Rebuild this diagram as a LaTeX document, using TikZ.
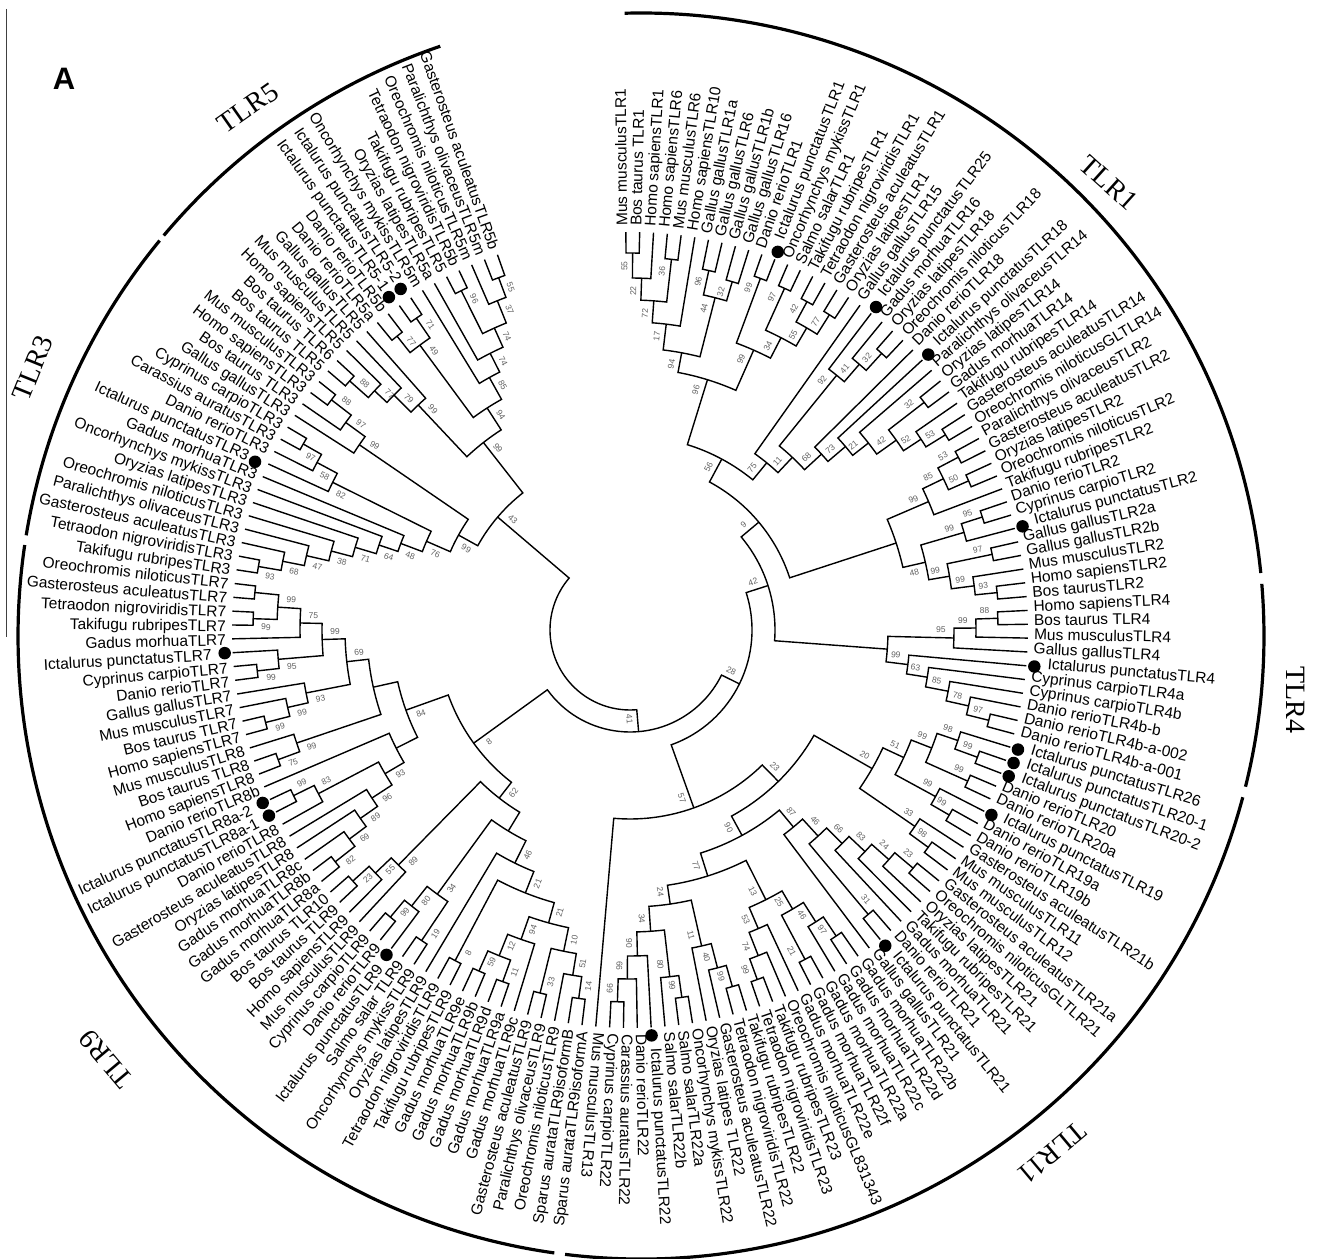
\documentclass[tikz,border=0pt]{standalone}
\usepackage{fontspec}
\setmainfont{Liberation Sans}
\newfontfamily\grpfont{Liberation Serif}
\newcount\tipn
\tipn=0
\def\thetaO{90.6}
\def\dtheta{1.995}
\def\tipR{398}
\def\getA#1{\csname ang@#1\endcsname}
\def\getR#1{\csname rad@#1\endcsname}
\tikzset{
  tiplabel/.style={inner sep=0pt,text height=11pt,text depth=3pt,font=\fontsize{15.5}{17}\selectfont},
  dotmark/.style={circle,fill=black,inner sep=0pt,minimum size=12.5pt},
  branch/.style={line width=1.4pt,black,line join=miter},
  support/.style={inner sep=0pt,text=black!62,font=\fontsize{8.5}{9}\selectfont},
  outerarc/.style={line width=3.2pt,black},
  grouplabel/.style={inner sep=0pt,font=\grpfont\fontsize{28}{30}\selectfont}
}
\newcommand{\tp}[3][0]{%
  \global\advance\tipn by 1
  \pgfmathsetmacro\angT{\thetaO-\dtheta*(\the\tipn-1)}%
  \expandafter\xdef\csname ang@#2\endcsname{\angT}%
  \expandafter\xdef\csname rad@#2\endcsname{\tipR}%
  \coordinate (#2) at (\angT:\tipR);
  \ifnum#1=1
    \def\labR{419}%
    \ifnum\tipn>140
      \pgfmathsetmacro\angD{\angT+0.5}%
      \node[dotmark] (#2d) at (\angD:411) {};
    \else
      \node[dotmark] (#2d) at (\angT:406) {};
    \fi
  \else
    \def\labR{404}%
  \fi
  \pgfmathsetmacro\angL{\angT+0.35}%
  \ifnum\tipn<95
    \node[tiplabel,rotate=\angT,anchor=west] (#2l) at (\angL:\labR) {#3};
  \else
    \pgfmathsetmacro\rotT{\angT+180}%
    \node[tiplabel,rotate=\rotT,anchor=east] (#2l) at (\angL:\labR) {#3};
  \fi
}
\newcommand{\nd}[5][0]{%
  \pgfmathsetmacro\angA{\getA{#3}}%
  \pgfmathsetmacro\angB{\getA{#4}}%
  \pgfmathsetmacro\angM{(\angA+\angB)/2}%
  \expandafter\xdef\csname ang@#2\endcsname{\angM}%
  \coordinate (#2) at (\angM:#5);
  \draw[branch] (#3) -- (\angA:#5) arc[start angle=\angA,end angle=\angB,radius=#5] -- (#4);
}
\newcommand{\bs}[3][0]{%
  \def\tmpl{#3}%
  \ifx\tmpl\empty\else
    \pgfmathsetmacro\angM{\getA{#2}}%
    \pgfmathsetmacro\thN{mod(\angM+720,360)}%
    \ifnum#1=0
      \pgfmathsetmacro\sd{((\thN>=90 && \thN<150) || (\thN>=268 && \thN<305)) ? -1 : 1}%
    \else
      \def\sd{#1}%
    \fi
    \pgfmathsetmacro\rS{\csname rad@#2\endcsname-13}%
    \pgfmathsetmacro\angS{\angM+\sd*8/\rS*57.3}%
    \ifdim\angM pt>-95pt
      \pgfmathsetmacro\rotS{\angM}%
    \else
      \pgfmathsetmacro\rotS{\angM+180}%
    \fi
    \node[support,rotate=\rotS] (#2s) at (\angS:\rS) {#3};
  \fi
}
\newcommand{\cl}[6][0]{%
  \expandafter\xdef\csname rad@#2\endcsname{#3}%
  \nd{#2}{#4}{#5}{#3}%
  \bs[#1]{#2}{#6}%
}
\begin{document}
\begin{tikzpicture}[x=1pt,y=1pt]
\useasboundingbox (0,0) rectangle (1318,1259);
\fill[white] (0,0) rectangle (1318,1259);
\coordinate (sideA) at (6,1250);
\coordinate (sideB) at (6,622);
\draw[line width=0.9pt,black!75] (sideA) -- (sideB);
\node[inner sep=0pt,font=\bfseries\fontsize{31}{33}\selectfont] (panelA) at (64,1180) {A};
\begin{scope}[shift={(641,623)}]
\draw[outerarc] (91.5:623) arc[start angle=91.5,end angle=5.8,radius=623];
\draw[outerarc] (4.8:623) arc[start angle=4.8,end angle=-14,radius=623];
\draw[outerarc] (-15:623) arc[start angle=-15,end angle=-97,radius=623];
\draw[outerarc] (-98:623) arc[start angle=-98,end angle=-188.4,radius=623];
\draw[outerarc] (-189.3:623) arc[start angle=-189.3,end angle=-219.4,radius=623];
\draw[outerarc] (-220:623) arc[start angle=-220,end angle=-251.2,radius=623];
\end{scope}
\node[grouplabel,rotate=-42] (gT1) at (1109,1076) {TLR1};
\node[grouplabel,rotate=-90] (gT4) at (1296,559) {TLR4};
\node[grouplabel,rotate=220] (gT11) at (1052,106) {TLR11};
\node[grouplabel,rotate=130] (gT9) at (106,200) {TLR9};
\node[grouplabel,rotate=68] (gT3) at (33,891) {TLR3};
\node[grouplabel,rotate=35] (gT5) at (248,1151) {TLR5};
\begin{scope}[shift={(630,629)}]
\tp{t1}{Mus musculusTLR1}
\tp{t2}{Bos taurus TLR1}
\tp{t3}{Homo sapiensTLR1}
\tp{t4}{Homo sapiensTLR6}
\tp{t5}{Mus musculusTLR6}
\tp{t6}{Homo sapiensTLR10}
\tp{t7}{Gallus gallusTLR1a}
\tp{t8}{Gallus gallusTLR6}
\tp{t9}{Gallus gallusTLR1b}
\tp{t10}{Gallus gallusTLR16}
\tp{t11}{Danio rerioTLR1}
\tp[1]{t12}{Ictalurus punctatusTLR1}
\tp{t13}{Oncorhynchys mykissTLR1}
\tp{t14}{Salmo salarTLR1}
\tp{t15}{Takifugu rubripesTLR1}
\tp{t16}{Tetraodon nigroviridisTLR1}
\tp{t17}{Gasterosteus aculeatusTLR1}
\tp{t18}{Oryzias latipesTLR1}
\tp{t19}{Gallus gallusTLR15}
\tp[1]{t20}{Ictalurus punctatusTLR25}
\tp{t21}{Gadus morhuaTLR16}
\tp{t22}{Oryzias latipesTLR18}
\tp{t23}{Oreochromis niloticusTLR18}
\tp{t24}{Danio rerioTLR18}
\tp[1]{t25}{Ictalurus punctatusTLR18}
\tp{t26}{Paralichthys olivaceusTLR14}
\tp{t27}{Oryzias latipesTLR14}
\tp{t28}{Gadus morhuaTLR14}
\tp{t29}{Takifugu rubripesTLR14}
\tp{t30}{Gasterosteus aculeatusTLR14}
\tp{t31}{Oreochromis niloticusGLTLR14}
\tp{t32}{Paralichthys olivaceusTLR2}
\tp{t33}{Gasterosteus aculeatusTLR2}
\tp{t34}{Oryzias latipesTLR2}
\tp{t35}{Oreochromis niloticusTLR2}
\tp{t36}{Takifugu rubripesTLR2}
\tp{t37}{Danio rerioTLR2}
\tp{t38}{Cyprinus carpioTLR2}
\tp[1]{t39}{Ictalurus punctatusTLR2}
\tp{t40}{Gallus gallusTLR2a}
\tp{t41}{Gallus gallusTLR2b}
\tp{t42}{Mus musculusTLR2}
\tp{t43}{Homo sapiensTLR2}
\tp{t44}{Bos taurusTLR2}
\tp{t45}{Homo sapiensTLR4}
\tp{t46}{Bos taurus TLR4}
\tp{t47}{Mus musculusTLR4}
\tp{t48}{Gallus gallusTLR4}
\tp[1]{t49}{Ictalurus punctatusTLR4}
\tp{t50}{Cyprinus carpioTLR4a}
\tp{t51}{Cyprinus carpioTLR4b}
\tp{t52}{Danio rerioTLR4b-b}
\tp{t53}{Danio rerioTLR4b-a-002}
\tp{t54}{Danio rerioTLR4b-a-001}
\tp[1]{t55}{Ictalurus punctatusTLR26}
\tp[1]{t56}{Ictalurus punctatusTLR20-1}
\tp[1]{t57}{Ictalurus punctatusTLR20-2}
\tp{t58}{Danio rerioTLR20}
\tp{t59}{Danio rerioTLR20a}
\tp[1]{t60}{Ictalurus punctatusTLR19}
\tp{t61}{Danio rerioTLR19a}
\tp{t62}{Danio rerioTLR19b}
\tp{t63}{Gasterosteus aculeatusTLR21b}
\tp{t64}{Mus musculusTLR11}
\tp{t65}{Mus musculusTLR12}
\tp{t66}{Gasterosteus aculeatusTLR21a}
\tp{t67}{Oreochromis niloticusGLTLR21}
\tp{t68}{Oryzias latipesTLR21}
\tp{t69}{Takifugu rubripesTLR21}
\tp{t70}{Gadus morhuaTLR21}
\tp{t71}{Danio rerioTLR21}
\tp[1]{t72}{Ictalurus punctatusTLR21}
\tp{t73}{Gallus gallusTLR21}
\tp{t74}{Gadus morhuaTLR22b}
\tp{t75}{Gadus morhuaTLR22d}
\tp{t76}{Gadus morhuaTLR22c}
\tp{t77}{Gadus morhuaTLR22a}
\tp{t78}{Gadus morhuaTLR22f}
\tp{t79}{Gadus morhuaTLR22e}
\tp{t80}{Oreochromis niloticusGL831343}
\tp{t81}{Takifugu rubripesTLR23}
\tp{t82}{Tetraodon nigroviridisTLR23}
\tp{t83}{Takifugu rubripesTLR22}
\tp{t84}{Tetraodon nigroviridisTLR22}
\tp{t85}{Gasterosteus aculeatusTLR22}
\tp{t86}{Oryzias latipes TLR22}
\tp{t87}{Oncorhynchys mykissTLR22}
\tp{t88}{Salmo salarTLR22a}
\tp{t89}{Salmo salarTLR22b}
\tp[1]{t90}{Ictalurus punctatusTLR22}
\tp{t91}{Danio rerioTLR22}
\tp{t92}{Carassius auratusTLR22}
\tp{t93}{Cyprinus carpioTLR22}
\tp{t94}{Mus musculusTLR13}
\tp{t95}{Sparus aurataTLR9isoformA}
\tp{t96}{Sparus aurataTLR9isoformB}
\tp{t97}{Oreochromis niloticusTLR9}
\tp{t98}{Paralichthys olivaceusTLR9}
\tp{t99}{Gasterosteus aculeatusTLR9}
\tp{t100}{Gadus morhuaTLR9c}
\tp{t101}{Gadus morhuaTLR9a}
\tp{t102}{Gadus morhuaTLR9d}
\tp{t103}{Gadus morhuaTLR9b}
\tp{t104}{Gadus morhuaTLR9e}
\tp{t105}{Takifugu rubripesTLR9}
\tp{t106}{Tetraodon nigroviridisTLR9}
\tp{t107}{Oryzias latipesTLR9}
\tp{t108}{Oncorhynchys mykissTLR9}
\tp{t109}{Salmo salar TLR9}
\tp[1]{t110}{Ictalurus punctatusTLR9}
\tp{t111}{Danio rerioTLR9}
\tp{t112}{Cyprinus carpioTLR9}
\tp{t113}{Mus musculusTLR9}
\tp{t114}{Homo sapiensTLR9}
\tp{t115}{Bos taurus TLR9}
\tp{t116}{Bos taurus TLR10}
\tp{t117}{Gadus morhuaTLR8a}
\tp{t118}{Gadus morhuaTLR8b}
\tp{t119}{Gadus morhuaTLR8c}
\tp{t120}{Oryzias latipesTLR8}
\tp{t121}{Gasterosteus aculeatusTLR8}
\tp{t122}{Danio rerioTLR8}
\tp[1]{t123}{Ictalurus punctatusTLR8a-1}
\tp[1]{t124}{Ictalurus punctatusTLR8a-2}
\tp{t125}{Danio rerioTLR8b}
\tp{t126}{Homo sapiensTLR8}
\tp{t127}{Bos taurus TLR8}
\tp{t128}{Mus musculusTLR8}
\tp{t129}{Homo sapiensTLR7}
\tp{t130}{Bos taurus TLR7}
\tp{t131}{Mus musculusTLR7}
\tp{t132}{Gallus gallusTLR7}
\tp{t133}{Danio rerioTLR7}
\tp{t134}{Cyprinus carpioTLR7}
\tp[1]{t135}{Ictalurus punctatusTLR7}
\tp{t136}{Gadus morhuaTLR7}
\tp{t137}{Takifugu rubripesTLR7}
\tp{t138}{Tetraodon nigroviridisTLR7}
\tp{t139}{Gasterosteus aculeatusTLR7}
\tp{t140}{Oreochromis niloticusTLR7}
\tp{t141}{Takifugu rubripesTLR3}
\tp{t142}{Tetraodon nigroviridisTLR3}
\tp{t143}{Gasterosteus aculeatusTLR3}
\tp{t144}{Paralichthys olivaceusTLR3}
\tp{t145}{Oreochromis niloticusTLR3}
\tp{t146}{Oryzias latipesTLR3}
\tp{t147}{Oncorhynchys mykissTLR3}
\tp{t148}{Gadus morhuaTLR3}
\tp[1]{t149}{Ictalurus punctatusTLR3}
\tp{t150}{Danio rerioTLR3}
\tp{t151}{Carassius auratusTLR3}
\tp{t152}{Cyprinus carpioTLR3}
\tp{t153}{Gallus gallusTLR3}
\tp{t154}{Bos taurus TLR3}
\tp{t155}{Homo sapiensTLR3}
\tp{t156}{Mus musculusTLR3}
\tp{t157}{Bos taurus TLR5}
\tp{t158}{Bos taurus TLR6}
\tp{t159}{Homo sapiensTLR5}
\tp{t160}{Mus musculusTLR5}
\tp{t161}{Gallus gallusTLR5}
\tp{t162}{Danio rerioTLR5a}
\tp{t163}{Danio rerioTLR5b}
\tp[1]{t164}{Ictalurus punctatusTLR5-1}
\tp[1]{t165}{Ictalurus punctatusTLR5-2}
\tp{t166}{Oncorhynchys mykissTLR5m}
\tp{t167}{Oryzias latipesTLR5a}
\tp{t168}{Takifugu rubripesTLR5}
\tp{t169}{Tetraodon nigroviridisTLR5b}
\tp{t170}{Oreochromis niloticusTLR5m}
\tp{t171}{Paralichthys olivaceusTLR5m}
\tp{t172}{Gasterosteus aculeatusTLR5b}
\cl{a1}{377}{t1}{t2}{55}
\cl{a2}{352}{a1}{t3}{22}
\cl{a3}{373}{t4}{t5}{36}
\cl{a4}{330}{a2}{a3}{72}
\cl{a5}{308}{a4}{t6}{17}
\cl{a6}{368}{t7}{t8}{96}
\cl{a7}{363}{t9}{t10}{32}
\cl{a8}{343}{a6}{a7}{44}
\cl{a9}{282}{a5}{a8}{94}
\cl{a10}{375}{t11}{t12}{99}
\cl{a11}{375}{t13}{t14}{97}
\cl{a12}{373}{t15}{t16}{42}
\cl{a13}{373}{t17}{t18}{77}
\cl{a14}{350}{a12}{a13}{55}
\cl{a15}{329}{a11}{a14}{34}
\cl{a16}{306}{a10}{a15}{99}
\cl{a17}{262}{a9}{a16}{96}
\cl{b1}{374}{t22}{t23}{32}
\cl{b2}{351}{t21}{b1}{41}
\cl{b3}{328}{t20}{b2}{92}
\cl{b4}{372}{t27}{t28}{32}
\cl{b5}{371}{t30}{t31}{53}
\cl{b6}{348}{t29}{b5}{52}
\cl{b7}{327}{b4}{b6}{42}
\cl{b8}{303}{t26}{b7}{21}
\cl{b9}{283}{t25}{b8}{73}
\cl{b10}{260}{t24}{b9}{68}
\cl{b11}{237}{b3}{b10}{11}
\cl{b12}{216}{t19}{b11}{75}
\cl{b13}{194}{a17}{b12}{56}
\cl{c1}{371}{t32}{t33}{53}
\cl{c2}{370}{t34}{t35}{50}
\cl{c3}{348}{c1}{c2}{85}
\cl{c4}{325}{c3}{t36}{99}
\cl{c5}{370}{t37}{t38}{95}
\cl{c6}{348}{c5}{t39}{99}
\cl{c7}{370}{t40}{t41}{97}
\cl{c8}{369}{t43}{t44}{93}
\cl{c9}{347}{t42}{c8}{99}
\cl{c10}{324}{c7}{c9}{99}
\cl[-1]{c11}{303}{c6}{c10}{48}
\cl{c12}{280}{c4}{c11}{}
\cl{c13}{168}{b13}{c12}{9}
\cl{e1}{368}{t45}{t46}{88}
\cl{e2}{346}{e1}{t47}{99}
\cl{e3}{324}{e2}{t48}{95}
\cl{e4}{370}{t53}{t54}{97}
\cl{e5}{347}{t52}{e4}{78}
\cl{e6}{324}{t51}{e5}{85}
\cl{e7}{301}{t50}{e6}{63}
\cl{e8}{280}{t49}{e7}{99}
\cl{e9}{258}{e3}{e8}{}
\cl{e10}{145}{c13}{e9}{42}
\cl{f1}{370}{t56}{t57}{99}
\cl{f2}{346}{t55}{f1}{98}
\cl{f3}{370}{t58}{t59}{99}
\cl{f4}{324}{f2}{f3}{99}
\cl{f5}{369}{t61}{t62}{99}
\cl{f6}{348}{t60}{f5}{99}
\cl{f7}{302}{f4}{f6}{51}
\cl{f8}{369}{t64}{t65}{98}
\cl{f9}{346}{t63}{f8}{33}
\cl{f10}{279}{f7}{f9}{20}
\cl{g1}{370}{t66}{t67}{23}
\cl{g2}{346}{t68}{g1}{24}
\cl{g3}{323}{t69}{g2}{83}
\cl{g4}{301}{t70}{g3}{66}
\cl{g5}{371}{t71}{t72}{31}
\cl{g6}{279}{g4}{g5}{46}
\cl{g7}{256}{g6}{t73}{87}
\cl{h1}{372}{t92}{t93}{99}
\cl{h2}{349}{t91}{h1}{66}
\cl{h3}{326}{t90}{h2}{90}
\cl{h4}{371}{t87}{t88}{99}
\cl{h5}{349}{t89}{h4}{80}
\cl{h6}{302}{h5}{h3}{34}
\cl{h7}{371}{t83}{t84}{99}
\cl{h8}{349}{t85}{h7}{40}
\cl{h9}{324}{t86}{h8}{11}
\cl{h10}{277}{h6}{h9}{24}
\cl{h11}{372}{t81}{t82}{99}
\cl{h12}{350}{t80}{h11}{74}
\cl{h13}{325}{t79}{h12}{53}
\cl{h14}{373}{t77}{t78}{21}
\cl{h15}{369}{t74}{t75}{97}
\cl{h16}{346}{t76}{h15}{46}
\cl{h17}{323}{h14}{h16}{25}
\cl{h18}{302}{h13}{h17}{13}
\cl{h19}{258}{h10}{h18}{77}
\cl{h20}{234}{g7}{h19}{90}
\cl{h21}{212}{f10}{h20}{23}
\cl{h22}{189}{h21}{t94}{57}
\cl{h23}{122}{e10}{h22}{28}
\cl{i1}{372}{t95}{t96}{14}
\cl{i2}{350}{t97}{i1}{51}
\cl{i3}{374}{t98}{t99}{33}
\cl{i4}{328}{i2}{i3}{10}
\cl{i5}{374}{t101}{t102}{11}
\cl{i6}{373}{t103}{t104}{59}
\cl{i7}{351}{i5}{i6}{12}
\cl{i8}{328}{t100}{i7}{94}
\cl{i9}{304}{i4}{i8}{21}
\cl{i10}{374}{t105}{t106}{8}
\cl{i11}{283}{i10}{i9}{21}
\cl{i12}{260}{t107}{i11}{46}
\cl{i13}{374}{t108}{t109}{19}
\cl{i14}{374}{t111}{t112}{99}
\cl{i15}{352}{t110}{i14}{80}
\cl{i16}{327}{i13}{i15}{34}
\cl{i17}{235}{i16}{i12}{}
\cl{i18}{374}{t115}{t116}{23}
\cl{i19}{352}{t114}{i18}{55}
\cl{i20}{330}{t113}{i19}{89}
\cl{i21}{213}{i20}{i17}{62}
\cl{j1}{375}{t117}{t118}{82}
\cl{j2}{350}{t119}{j1}{69}
\cl{j3}{329}{t120}{j2}{89}
\cl{j4}{308}{t121}{j3}{96}
\cl[-1]{j5}{375}{t123}{t124}{99}
\cl[-1]{j6}{352}{t122}{j5}{83}
\cl{j7}{284}{j6}{j4}{93}
\cl{j8}{262}{t125}{j7}{}
\cl{j9}{375}{t126}{t127}{75}
\cl{j10}{352}{t128}{j9}{99}
\cl{j11}{376}{t129}{t130}{99}
\cl{j12}{351}{t131}{j11}{99}
\cl{j13}{330}{t132}{j12}{93}
\cl{j14}{375}{t133}{t134}{99}
\cl{j15}{353}{t135}{j14}{95}
\cl{j16}{377}{t137}{t138}{99}
\cl{j17}{377}{t139}{t140}{}
\cl[-1]{j18}{353}{j16}{j17}{99}
\cl[-1]{j19}{330}{t136}{j18}{75}
\cl[-1]{j20}{308}{j15}{j19}{99}
\cl[-1]{j21}{285}{j20}{j13}{69}
\cl{j22}{263}{j21}{j10}{}
\cl{j23}{238}{j22}{j8}{84}
\cl{j24}{193}{j23}{i21}{8}
\cl{h24}{102}{j24}{h23}{41}
\cl{k1}{377}{t141}{t142}{93}
\cl{k2}{354}{t143}{k1}{68}
\cl{k3}{332}{t144}{k2}{47}
\cl{k4}{309}{t145}{k3}{38}
\cl{k5}{287}{t146}{k4}{71}
\cl{k6}{265}{t147}{k5}{64}
\cl{k7}{245}{t148}{k6}{48}
\cl{k8}{376}{t151}{t152}{97}
\cl{k9}{355}{t150}{k8}{58}
\cl{k10}{332}{t149}{k9}{82}
\cl{k11}{222}{k10}{k7}{76}
\cl{k12}{377}{t155}{t156}{88}
\cl{k13}{352}{t154}{k12}{97}
\cl{k14}{328}{t153}{k13}{99}
\cl{k15}{196}{k11}{k14}{99}
\cl{l1}{375}{t157}{t158}{88}
\cl{l2}{350}{t159}{l1}{77}
\cl{l3}{333}{t160}{l2}{79}
\cl{l4}{309}{t161}{l3}{99}
\cl{m1}{378}{t164}{t165}{71}
\cl{m2}{375}{t162}{t163}{77}
\cl{m3}{354}{m1}{m2}{49}
\cl{m4}{379}{t168}{t169}{96}
\cl{m5}{376}{t171}{t172}{55}
\cl{m6}{355}{t170}{m5}{37}
\cl{m7}{331}{m4}{m6}{74}
\cl{m8}{310}{t167}{m7}{74}
\cl{m9}{289}{t166}{m8}{85}
\cl{m10}{264}{m3}{m9}{94}
\cl{m11}{238}{m10}{l4}{99}
\cl{n1}{174}{k15}{m11}{43}
\cl{r0}{80}{n1}{h24}{}
\end{scope}
\end{tikzpicture}
\end{document}
